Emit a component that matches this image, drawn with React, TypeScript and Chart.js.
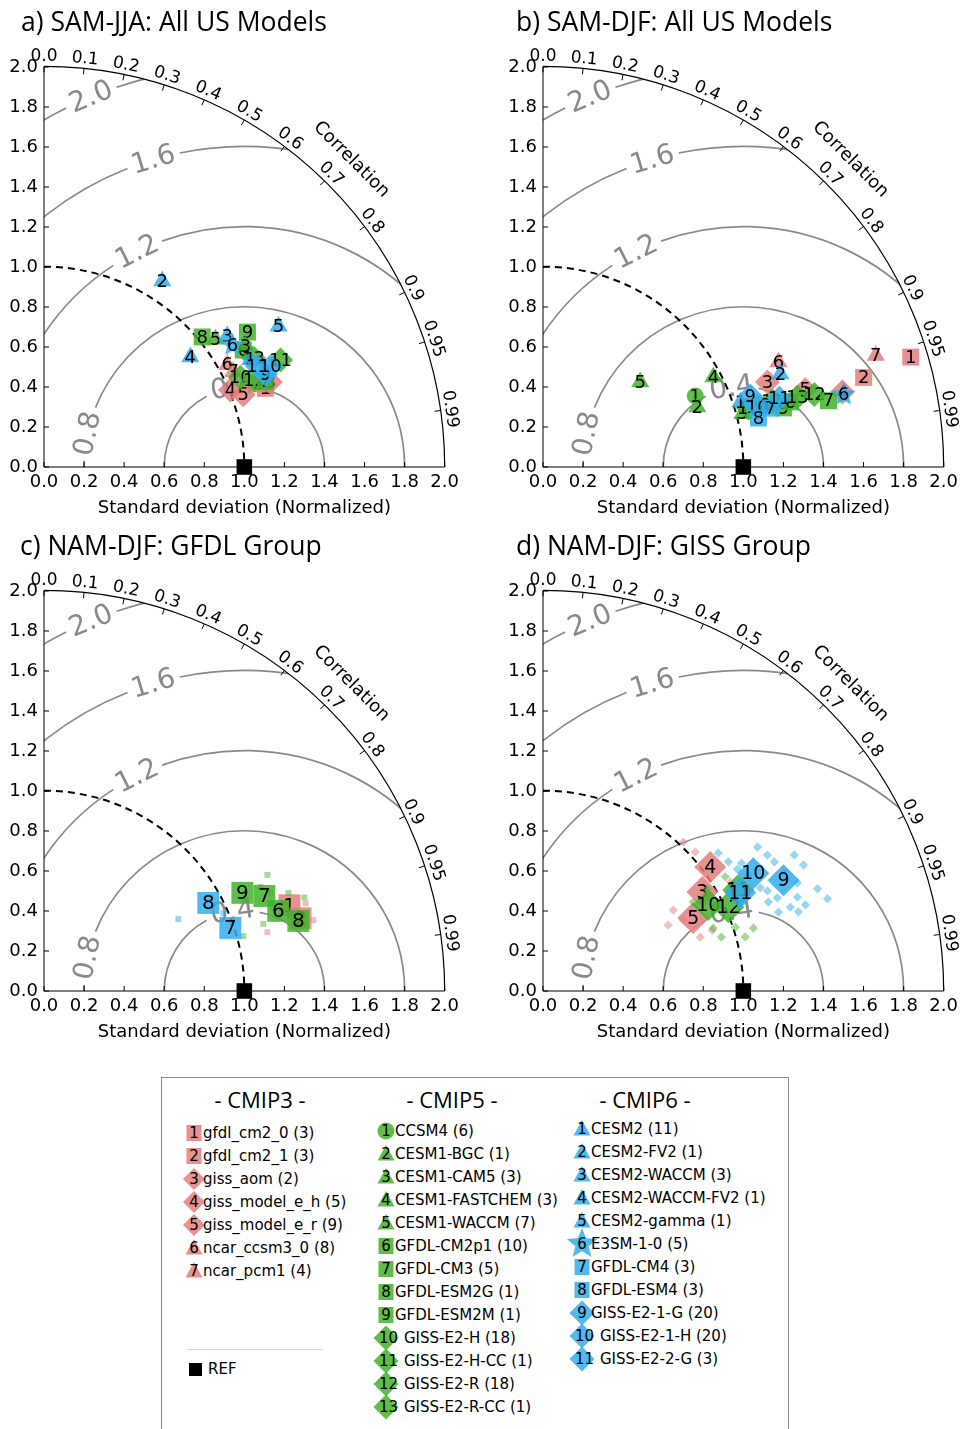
import React, { useEffect, useRef } from "react";
import { Chart, registerables } from "chart.js";

Chart.register(...registerables);

const FONT = '"DejaVu Sans", "Liberation Sans", sans-serif';
const TITLE_FONT = '"Open Sans", "Noto Sans", sans-serif';
const GRAY = "#8a8a8a";

// ---------------- data (normalized std, correlation) ----------------
// a) SAM-JJA
const A3_NUM = [1, 2, 3, 6, 7, 4, 5];
const A3_STD = [1.173, 1.148, 1.207, 1.048, 1.058, 1.007, 1.058];
const A3_COR = [0.942, 0.932, 0.936, 0.873, 0.893, 0.924, 0.94];
const A5_NUM = [8, 5, 6, 9, 3, 13, 11, 10, 12, 7];
const A5_STD = [1.023, 1.068, 1.154, 1.219, 1.173, 1.179, 1.296, 1.078, 1.137, 1.184];
const A5_COR = [0.772, 0.801, 0.862, 0.833, 0.857, 0.887, 0.911, 0.909, 0.924, 0.933];
const A6_NUM = [2, 4, 5, 3, 6, 1, 9, 11, 10];
const A6_STD = [1.101, 0.914, 1.366, 1.125, 1.121, 1.161, 1.199, 1.179, 1.236];
const A6_COR = [0.536, 0.799, 0.857, 0.813, 0.839, 0.887, 0.922, 0.904, 0.914];

// b) SAM-DJF
const B3_NUM = [1, 2, 7, 6, 3, 5, 4];
const B3_STD = [1.916, 1.662, 1.752, 1.287, 1.198, 1.365, 1.541];
const B3_COR = [0.958, 0.963, 0.948, 0.913, 0.935, 0.959, 0.97];
const B5_NUM = [5, 4, 1, 2, 3, 10, 11, 8, 9, 6, 13, 12, 7];
const B5_STD = [0.645, 0.962, 0.839, 0.826, 1.03, 1.067, 1.192, 1.152, 1.236, 1.277, 1.317, 1.402, 1.463];
const B5_COR = [0.752, 0.884, 0.906, 0.932, 0.966, 0.961, 0.961, 0.963, 0.971, 0.967, 0.964, 0.966, 0.974];
const B6_NUM = [2, 1, 9, 10, 8, 7, 11, 6];
const B6_STD = [1.273, 1.037, 1.094, 1.111, 1.103, 1.173, 1.229, 1.544];
const B6_COR = [0.931, 0.95, 0.946, 0.963, 0.975, 0.968, 0.96, 0.972];

// c) NAM-DJF: GFDL group (big = model means, members = ensemble members)
const C3_NUM = [1, 2];
const C3_STD = [1.298, 1.331];
const C3_COR = [0.944, 0.962];
const C3_MEM_STD = [1.391, 1.153, 1.345, 1.377];
const C3_MEM_COR = [0.967, 0.967, 0.962, 0.948];
const C5_NUM = [9, 7, 6, 8];
const C5_STD = [1.105, 1.198, 1.236, 1.317];
const C5_COR = [0.896, 0.918, 0.946, 0.964];
const C5_MEM_STD = [1.257, 1.315, 1.381, 1.145, 1.032, 1.199, 1.232];
const C5_MEM_COR = [0.887, 0.928, 0.941, 0.956, 0.964, 0.901, 0.917];
const C6_NUM = [8, 7];
const C6_STD = [0.931, 0.982];
const C6_COR = [0.881, 0.947];
const C6_MEM_STD = [0.761, 1.0, 0.976];
const C6_MEM_COR = [0.881, 0.94, 0.917];

// d) NAM-DJF: GISS group
const D3_NUM = [4, 3, 5];
const D3_STD = [1.04, 0.937, 0.834];
const D3_COR = [0.803, 0.849, 0.899];
const D3_MEM_STD = [1.022, 1.03, 0.766, 0.785, 0.946, 0.83, 1.082, 0.898, 0.707];
const D3_MEM_COR = [0.685, 0.738, 0.849, 0.892, 0.846, 0.946, 0.864, 0.941, 0.884];
const D5_NUM = [11, 10, 12];
const D5_STD = [1.098, 0.93, 1.016];
const D5_COR = [0.888, 0.887, 0.911];
const D5_MEM_STD = [1.074, 1.083, 0.872, 0.906, 0.93, 1.012, 1.045, 1.098, 0.966, 1.096];
const D5_MEM_COR = [0.847, 0.872, 0.86, 0.938, 0.957, 0.949, 0.966, 0.906, 0.849, 0.958];
const D6_NUM = [10, 9, 11];
const D6_STD = [1.204, 1.322, 1.1];
const D6_COR = [0.872, 0.908, 0.895];
const D6_MEM_STD = [1.114, 1.128, 1.146, 1.179, 1.29, 1.31, 1.178, 1.323, 1.427, 1.445, 1.344, 1.201, 1.227, 1.259, 1.354, 1.462, 1.493, 1.21, 1.24, 1.335, 1.304, 1.379, 1.38];
const D6_MEM_COR = [0.785, 0.82, 0.847, 0.84, 0.83, 0.855, 0.87, 0.873, 0.879, 0.9, 0.897, 0.903, 0.913, 0.929, 0.938, 0.937, 0.951, 0.93, 0.948, 0.955, 0.947, 0.95, 0.92];

const REF_STD = [1.0];
const REF_COR = [1.0];

// axes / labels
const STD_TICKS_STEP = 0.2;
const CORR_TICKS = [0, 0.1, 0.2, 0.3, 0.4, 0.5, 0.6, 0.7, 0.8, 0.9, 0.95, 0.99];
const RMS_LEVELS = [0.4, 0.8, 1.2, 1.6, 2.0];

// legend
const CMIP3_NAMES = ["gfdl_cm2_0 (3)", "gfdl_cm2_1 (3)", "giss_aom (2)", "giss_model_e_h (5)", "giss_model_e_r (9)", "ncar_ccsm3_0 (8)", "ncar_pcm1 (4)"];
const CMIP5_NAMES = ["CCSM4 (6)", "CESM1-BGC (1)", "CESM1-CAM5 (3)", "CESM1-FASTCHEM (3)", "CESM1-WACCM (7)", "GFDL-CM2p1 (10)", "GFDL-CM3 (5)", "GFDL-ESM2G (1)", "GFDL-ESM2M (1)", "GISS-E2-H (18)", "GISS-E2-H-CC (1)", "GISS-E2-R (18)", "GISS-E2-R-CC (1)"];
const CMIP6_NAMES = ["CESM2 (11)", "CESM2-FV2 (1)", "CESM2-WACCM (3)", "CESM2-WACCM-FV2 (1)", "CESM2-gamma (1)", "E3SM-1-0 (5)", "GFDL-CM4 (3)", "GFDL-ESM4 (3)", "GISS-E2-1-G (20)", "GISS-E2-1-H (20)", "GISS-E2-2-G (3)"];

// ---------------- styles ----------------
const SHAPES: Record<string, string[]> = {
  c3: ["rect", "rect", "rectRot", "rectRot", "rectRot", "triangle", "triangle"],
  c5: ["circle", "triangle", "triangle", "triangle", "triangle", "rect", "rect", "rect", "rect", "rectRot", "rectRot", "rectRot", "rectRot"],
  c6: ["triangle", "triangle", "triangle", "triangle", "triangle", "star", "rect", "rect", "rectRot", "rectRot", "rectRot"],
};
const RGB: Record<string, string> = { c3: "228,126,126", c5: "67,179,43", c6: "49,173,237" };

const SIZE_AB = { rect: 12, rectRot: 12.5, triangle: 10.5, circle: 8.5, star: 12.5 };
const SIZE_C = { rect: 15.5, rectRot: 16, triangle: 13, circle: 10, star: 15 };
const SIZE_D = { rect: 15.5, rectRot: 16, triangle: 13, circle: 10, star: 15 };

const PANELS = [
  {
    id: "a", left: 0, top: 0, title: "a) SAM-JJA: All US Models", titleX: 21, numSize: 18, sizes: SIZE_AB,
    groups: [
      { key: "c3", num: A3_NUM, std: A3_STD, cor: A3_COR },
      { key: "c5", num: A5_NUM, std: A5_STD, cor: A5_COR },
      { key: "c6", num: A6_NUM, std: A6_STD, cor: A6_COR },
    ],
  },
  {
    id: "b", left: 499, top: 0, title: "b) SAM-DJF: All US Models", titleX: 17, numSize: 18, sizes: SIZE_AB,
    groups: [
      { key: "c3", num: B3_NUM, std: B3_STD, cor: B3_COR },
      { key: "c5", num: B5_NUM, std: B5_STD, cor: B5_COR },
      { key: "c6", num: B6_NUM, std: B6_STD, cor: B6_COR },
    ],
  },
  {
    id: "c", left: 0, top: 524, title: "c) NAM-DJF: GFDL Group", titleX: 20, numSize: 20, sizes: SIZE_C,
    memberShape: "rect", memberR: 4.2,
    groups: [
      { key: "c3", num: C3_NUM, std: C3_STD, cor: C3_COR, mStd: C3_MEM_STD, mCor: C3_MEM_COR },
      { key: "c5", num: C5_NUM, std: C5_STD, cor: C5_COR, mStd: C5_MEM_STD, mCor: C5_MEM_COR },
      { key: "c6", num: C6_NUM, std: C6_STD, cor: C6_COR, mStd: C6_MEM_STD, mCor: C6_MEM_COR },
    ],
  },
  {
    id: "d", left: 499, top: 524, title: "d) NAM-DJF: GISS Group", titleX: 17, numSize: 19, sizes: SIZE_D,
    memberShape: "rectRot", memberR: 4.6,
    groups: [
      { key: "c3", num: D3_NUM, std: D3_STD, cor: D3_COR, mStd: D3_MEM_STD, mCor: D3_MEM_COR },
      { key: "c5", num: D5_NUM, std: D5_STD, cor: D5_COR, mStd: D5_MEM_STD, mCor: D5_MEM_COR },
      { key: "c6", num: D6_NUM, std: D6_STD, cor: D6_COR, mStd: D6_MEM_STD, mCor: D6_MEM_COR },
    ],
  },
];

// RMS label placement (angle around REF point, degrees)
const RMS_LABEL_ANGLE = [98.5, 168, 116.5, 106.5, 112.5];

function taylorXY(std: number, cor: number) {
  return { x: std * cor, y: std * Math.sqrt(Math.max(0, 1 - cor * cor)) };
}

function starImage(R: number, color: string) {
  const s = Math.ceil(R * 2 + 2);
  const c = document.createElement("canvas");
  c.width = s;
  c.height = s;
  const g = c.getContext("2d")!;
  g.fillStyle = color;
  g.beginPath();
  for (let i = 0; i < 10; i++) {
    const r = i % 2 === 0 ? R : R * 0.45;
    const a = -Math.PI / 2 + (i * Math.PI) / 5;
    g.lineTo(s / 2 + r * Math.cos(a), s / 2 + r * Math.sin(a));
  }
  g.closePath();
  g.fill();
  return c;
}

function buildDatasets(cfg: any) {
  const list: any[] = [];
  for (const g of cfg.groups) {
    const rgb = RGB[g.key];
    if (g.mStd) {
      list.push({
        data: g.mStd.map((s: number, i: number) => taylorXY(s, g.mCor[i])),
        pointStyle: cfg.memberShape,
        pointRadius: cfg.memberR,
        pointBackgroundColor: `rgba(${rgb},0.5)`,
        pointBorderColor: "rgba(0,0,0,0)",
        pointBorderWidth: 0,
        showLine: false,
        clip: false,
      });
    }
    g.num.forEach((n: number, i: number) => {
      const shape = SHAPES[g.key][n - 1];
      const color = `rgba(${rgb},0.85)`;
      list.push({
        data: [taylorXY(g.std[i], g.cor[i])],
        pointStyle: shape === "star" ? starImage(cfg.sizes.star, color) : shape,
        pointRadius: cfg.sizes[shape],
        pointBackgroundColor: color,
        pointBorderColor: "rgba(0,0,0,0)",
        pointBorderWidth: 0,
        showLine: false,
        clip: false,
        numLabel: String(n),
      });
    });
  }
  list.push({
    data: REF_STD.map((s, i) => taylorXY(s, REF_COR[i])),
    pointStyle: "rect",
    pointRadius: 11,
    pointBackgroundColor: "#000",
    pointBorderWidth: 0,
    showLine: false,
    clip: false,
  });
  // Chart.js paints the first dataset last; reverse so list order = paint order
  return list.reverse();
}

function makePlugin(cfg: any) {
  return {
    id: "taylor_" + cfg.id,
    beforeDatasetsDraw(chart: any) {
      const { ctx, scales } = chart;
      const xs = scales.x;
      const ys = scales.y;
      const ox = xs.getPixelForValue(0);
      const oy = ys.getPixelForValue(0);
      const u = xs.getPixelForValue(1) - ox;
      const cx = xs.getPixelForValue(1);
      ctx.save();

      // RMS contours, clipped to the quarter disc
      ctx.font = `28px ${FONT}`;
      ctx.save();
      ctx.beginPath();
      ctx.moveTo(ox, oy);
      ctx.arc(ox, oy, 2 * u, -Math.PI / 2, 0);
      ctx.closePath();
      ctx.clip();
      ctx.strokeStyle = GRAY;
      ctx.lineWidth = 1.7;
      RMS_LEVELS.forEach((r, k) => {
        const phi = (RMS_LABEL_ANGLE[k] * Math.PI) / 180;
        const w = ctx.measureText(r.toFixed(1)).width;
        const d = (w / 2 + 5) / (r * u);
        ctx.beginPath();
        ctx.arc(cx, oy, r * u, -Math.PI, -(phi + d));
        ctx.stroke();
        ctx.beginPath();
        ctx.arc(cx, oy, r * u, -(phi - d), 0);
        ctx.stroke();
      });
      ctx.restore();
      ctx.fillStyle = GRAY;
      ctx.textAlign = "center";
      ctx.textBaseline = "middle";
      RMS_LEVELS.forEach((r, k) => {
        const phi = (RMS_LABEL_ANGLE[k] * Math.PI) / 180;
        ctx.save();
        ctx.translate(cx + r * u * Math.cos(phi), oy - r * u * Math.sin(phi));
        ctx.rotate(-(phi - Math.PI / 2));
        ctx.fillText(r.toFixed(1), 0, 1);
        ctx.restore();
      });

      // reference std arc (dashed)
      ctx.strokeStyle = "#000";
      ctx.lineWidth = 2;
      ctx.setLineDash([7, 5]);
      ctx.beginPath();
      ctx.arc(ox, oy, u, -Math.PI / 2, 0);
      ctx.stroke();
      ctx.setLineDash([]);

      // outer correlation arc
      ctx.lineWidth = 1.2;
      ctx.beginPath();
      ctx.arc(ox, oy, 2 * u, -Math.PI / 2, 0);
      ctx.stroke();

      // correlation ticks and labels
      ctx.lineWidth = 1;
      ctx.fillStyle = "#000";
      ctx.font = `17px ${FONT}`;
      CORR_TICKS.forEach((c) => {
        const t = Math.acos(c);
        ctx.beginPath();
        ctx.moveTo(ox + 2 * u * Math.cos(t), oy - 2 * u * Math.sin(t));
        ctx.lineTo(ox + (2 * u - 6) * Math.cos(t), oy - (2 * u - 6) * Math.sin(t));
        ctx.stroke();
        const R = 2 * u + 9.5;
        ctx.save();
        ctx.translate(ox + R * Math.cos(t), oy - R * Math.sin(t));
        ctx.rotate(Math.PI / 2 - t);
        ctx.fillText(c === 0.95 || c === 0.99 ? c.toFixed(2) : c.toFixed(1), 0, 0);
        ctx.restore();
      });
      ctx.font = `18px ${FONT}`;
      {
        const R = 2 * u + 34;
        const t = Math.PI / 4;
        ctx.save();
        ctx.translate(ox + R * Math.cos(t), oy - R * Math.sin(t));
        ctx.rotate(Math.PI / 4);
        ctx.fillText("Correlation", 0, 0);
        ctx.restore();
      }

      // spines and inward ticks
      const top = ys.getPixelForValue(2);
      const right = xs.getPixelForValue(2);
      ctx.lineWidth = 1;
      ctx.beginPath();
      ctx.moveTo(ox, top);
      ctx.lineTo(ox, oy);
      ctx.lineTo(right, oy);
      ctx.stroke();
      xs.ticks.forEach((tk: any) => {
        const px = xs.getPixelForValue(tk.value);
        ctx.beginPath();
        ctx.moveTo(px, oy);
        ctx.lineTo(px, oy - 5);
        ctx.stroke();
      });
      ys.ticks.forEach((tk: any) => {
        const py = ys.getPixelForValue(tk.value);
        ctx.beginPath();
        ctx.moveTo(ox, py);
        ctx.lineTo(ox + 5, py);
        ctx.stroke();
      });
      ctx.restore();
    },
    afterDatasetDraw(chart: any, args: any) {
      const ds = chart.data.datasets[args.index];
      if (!ds || !ds.numLabel) return;
      const el = args.meta.data[0];
      if (!el) return;
      const ctx = chart.ctx;
      ctx.save();
      ctx.font = `${cfg.numSize}px ${FONT}`;
      ctx.fillStyle = "#000";
      ctx.textAlign = "center";
      ctx.textBaseline = "middle";
      ctx.fillText(ds.numLabel, el.x, el.y + 1);
      ctx.restore();
    },
    afterDraw(chart: any) {
      const ctx = chart.ctx;
      ctx.save();
      ctx.font = `26.5px ${TITLE_FONT}`;
      ctx.fillStyle = "#000";
      ctx.textAlign = "left";
      ctx.textBaseline = "alphabetic";
      ctx.fillText(cfg.title, cfg.titleX, 31);
      ctx.restore();
    },
  };
}

function axisOpts(isX: boolean) {
  const o: any = {
    type: "linear",
    min: 0,
    max: 2,
    grid: { display: false, drawTicks: false },
    border: { display: false },
    ticks: {
      stepSize: STD_TICKS_STEP,
      autoSkip: false,
      maxRotation: 0,
      color: "#000",
      padding: isX ? 5 : 6,
      font: { family: FONT, size: 18 },
      callback: (v: any) => Number(v).toFixed(1),
    },
  };
  if (isX) {
    o.afterFit = (s: any) => {
      s.height = 53;
    };
    o.title = {
      display: true,
      text: "Standard deviation (Normalized)",
      color: "#000",
      font: { family: FONT, size: 18 },
      padding: { top: 0, bottom: 1 },
    };
  } else {
    o.afterFit = (s: any) => {
      s.width = 44;
    };
  }
  return o;
}

function TaylorPanel({ cfg }: { cfg: any }) {
  const ref = useRef<HTMLCanvasElement>(null);
  useEffect(() => {
    if (!ref.current) return;
    const chart = new Chart(ref.current, {
      type: "scatter",
      data: { datasets: buildDatasets(cfg) },
      options: {
        responsive: false,
        animation: false,
        events: [],
        layout: { padding: { top: 67, right: 19, left: 0, bottom: 0 } },
        plugins: { legend: { display: false }, tooltip: { enabled: false }, title: { display: false } },
        scales: { x: axisOpts(true), y: axisOpts(false) },
      } as any,
      plugins: [makePlugin(cfg) as any],
    });
    return () => chart.destroy();
  }, [cfg]);
  return (
    <canvas
      ref={ref}
      width={464}
      height={520}
      style={{ position: "absolute", left: cfg.left, top: cfg.top, width: 464, height: 520 }}
    />
  );
}

function starPoints(R: number, r: number) {
  const pts: string[] = [];
  for (let i = 0; i < 10; i++) {
    const rr = i % 2 === 0 ? R : r;
    const a = -Math.PI / 2 + (i * Math.PI) / 5;
    pts.push(`${(rr * Math.cos(a)).toFixed(2)},${(rr * Math.sin(a)).toFixed(2)}`);
  }
  return pts.join(" ");
}

function LegendMarker({ shape, rgb, cx, cy, dia }: any) {
  const W = 40;
  const fill = `rgba(${rgb},0.85)`;
  let el: any = null;
  if (shape === "rect") el = <rect x={-7.5} y={-8} width={15} height={16} fill={fill} />;
  else if (shape === "rectRot") el = <polygon points={`0,${-dia} ${dia},0 0,${dia} ${-dia},0`} fill={fill} />;
  else if (shape === "triangle") el = <polygon points="0,-9 8.5,6.5 -8.5,6.5" fill={fill} />;
  else if (shape === "circle") el = <circle r={8.5} fill={fill} />;
  else if (shape === "star") el = <polygon points={starPoints(16, 7)} fill={fill} />;
  return (
    <svg width={W} height={W} viewBox={`${-W / 2} ${-W / 2} ${W} ${W}`} style={{ position: "absolute", left: cx - W / 2, top: cy - W / 2 }}>
      {el}
    </svg>
  );
}

const LEGEND_COLS = [
  { key: "c3", title: "- CMIP3 -", titleX: 260, mx: 194, y0: 1133, names: CMIP3_NAMES, dia: 11 },
  { key: "c5", title: "- CMIP5 -", titleX: 452, mx: 386, y0: 1131, names: CMIP5_NAMES, dia: 12.5 },
  { key: "c6", title: "- CMIP6 -", titleX: 645, mx: 582, y0: 1129, names: CMIP6_NAMES, dia: 12.5 },
];

function Legend() {
  const txt: any = { position: "absolute", fontFamily: FONT, fontSize: 15, lineHeight: "18px", whiteSpace: "nowrap", color: "#000" };
  const items: any[] = [];
  LEGEND_COLS.forEach((col) => {
    items.push(
      <div
        key={col.key + "h"}
        style={{ position: "absolute", left: col.titleX - 80, width: 160, top: 1088, textAlign: "center", fontFamily: TITLE_FONT, fontSize: 22, lineHeight: "22px", whiteSpace: "nowrap" }}
      >
        {col.title}
      </div>
    );
    col.names.forEach((name, i) => {
      const n = i + 1;
      const y = col.y0 + 23 * i;
      const two = n >= 10;
      items.push(<LegendMarker key={col.key + "m" + n} shape={SHAPES[col.key][i]} rgb={RGB[col.key]} cx={col.mx} cy={y} dia={col.dia} />);
      items.push(
        <div key={col.key + "n" + n} style={{ ...txt, left: col.mx - 20 + (two ? 2.5 : 0), width: 40, textAlign: "center", top: y - 9 }}>
          {String(n)}
        </div>
      );
      items.push(
        <div key={col.key + "t" + n} style={{ ...txt, left: col.mx + (two ? 18 : 9), top: y - 9 }}>
          {name}
        </div>
      );
    });
  });
  return (
    <>
      <div
        style={{
          position: "absolute",
          left: 161,
          top: 1077,
          width: 628,
          height: 352,
          boxSizing: "border-box",
          borderTop: "1px solid #8a8a8a",
          borderLeft: "1px solid #8a8a8a",
          borderRight: "1px solid #8a8a8a",
        }}
      />
      {items}
      <div style={{ position: "absolute", left: 187, top: 1349, width: 136, height: 1, background: "#d4d4d4" }} />
      <div style={{ position: "absolute", left: 189, top: 1363, width: 13, height: 13, background: "#000" }} />
      <div style={{ ...txt, left: 208, top: 1360 }}>REF</div>
    </>
  );
}

export default function App() {
  return (
    <div style={{ position: "absolute", left: 0, top: 0, width: 963, height: 1429, overflow: "hidden", background: "#fff" }}>
      {PANELS.map((p) => (
        <TaylorPanel key={p.id} cfg={p} />
      ))}
      <Legend />
    </div>
  );
}
